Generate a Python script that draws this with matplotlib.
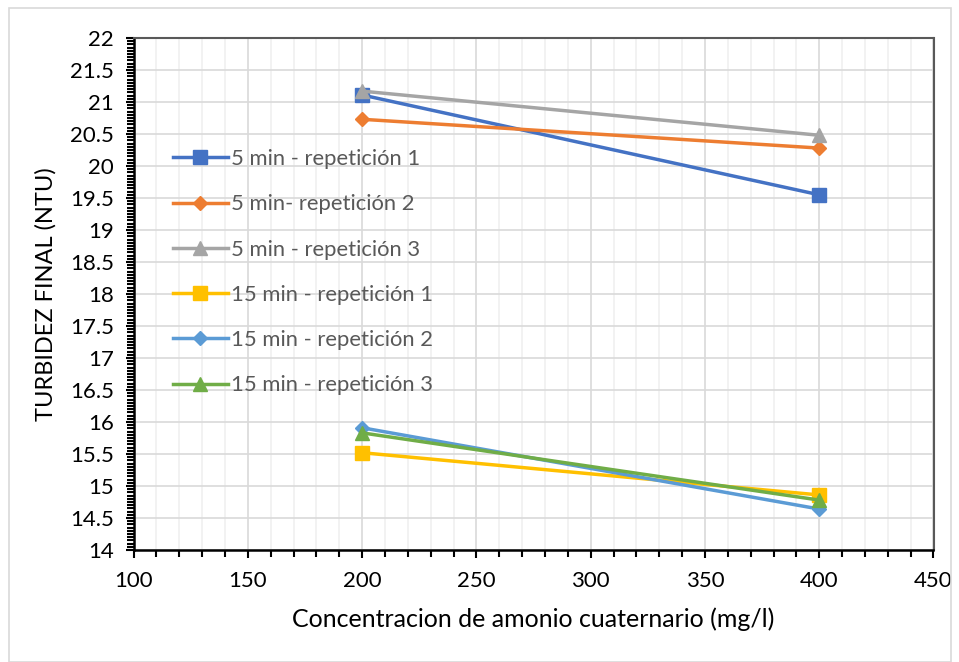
import matplotlib
matplotlib.use("Agg")
import matplotlib.pyplot as plt
from matplotlib.ticker import MultipleLocator
from matplotlib.patches import Rectangle

plt.rcParams['font.family'] = ['Lato', 'DejaVu Sans']

concentracion = [200, 400]
series_names = ["5 min - repetición 1", "5 min- repetición 2", "5 min - repetición 3",
                "15 min - repetición 1", "15 min - repetición 2", "15 min - repetición 3"]
r5_1 = [21.11, 19.55]
r5_2 = [20.73, 20.28]
r5_3 = [21.17, 20.48]
r15_1 = [15.52, 14.86]
r15_2 = [15.91, 14.64]
r15_3 = [15.83, 14.78]
values = [r5_1, r5_2, r5_3, r15_1, r15_2, r15_3]
colors = ["#4472C4", "#ED7D31", "#A5A5A5", "#FFC000", "#5B9BD5", "#70AD47"]
markers = ["s", "D", "^", "s", "D", "^"]
msizes = [10, 7, 10, 10, 7, 10]

fig = plt.figure(figsize=(9.59, 6.62), dpi=100)
fig.patches.append(Rectangle((9/959, 0.0), 942/959, 1 - 8/662, transform=fig.transFigure,
                             fill=False, edgecolor="#D9D9D9", linewidth=1.2))
ax = fig.add_axes([133.5/959, 1 - 550/662, 800/959, 512/662])

for v, c, m, ms, n in zip(values, colors, markers, msizes, series_names):
    ax.plot(concentracion, v, color=c, marker=m, markersize=ms, linewidth=2.5,
            label=n, zorder=3)

ax.set_xlim(100, 450)
ax.set_ylim(14, 22)
ax.xaxis.set_major_locator(MultipleLocator(50))
ax.xaxis.set_minor_locator(MultipleLocator(10))
ax.yaxis.set_minor_locator(MultipleLocator(0.05))
ax.set_yticks([14 + 0.5 * i for i in range(17)])
ax.set_yticklabels([f"{14 + 0.5 * i:g}" for i in range(17)])

ax.grid(which="major", axis="both", color="#D9D9D9", linewidth=1.2, zorder=0)
ax.grid(which="minor", axis="x", color="#F0F0F0", linewidth=1.2, zorder=0)
ax.set_axisbelow(True)

for s in ["left", "bottom"]:
    ax.spines[s].set_color("black")
    ax.spines[s].set_linewidth(1.8)
for s in ["top", "right"]:
    ax.spines[s].set_color("#595959")
    ax.spines[s].set_linewidth(1.5)

ax.tick_params(axis="both", which="major", direction="out", length=6, width=1.5,
               color="black", labelsize=16, labelcolor="black")
ax.tick_params(axis="both", which="minor", direction="out", length=5, width=1.5, color="black")
ax.tick_params(axis="x", pad=9)
ax.tick_params(axis="y", pad=8)

ax.set_xlabel("Concentracion de amonio cuaternario (mg/l)", fontsize=18, color="black", labelpad=12)
ax.set_ylabel("TURBIDEZ FINAL (NTU)", fontsize=17, color="black", labelpad=10)

leg = ax.legend(loc="upper left", bbox_to_anchor=(0.038, 0.80), frameon=False,
                fontsize=15.8, labelcolor="#595959", handlelength=2.5, handletextpad=0.15,
                labelspacing=1.15, borderaxespad=0)

fig.savefig("out.png", dpi=100)
